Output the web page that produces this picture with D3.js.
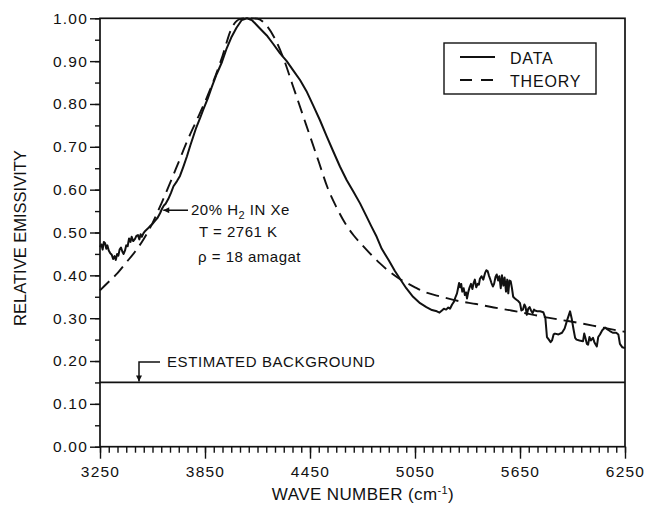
<!DOCTYPE html>
<html>
<head>
<meta charset="utf-8">
<script src="https://cdn.jsdelivr.net/npm/d3@7"></script>
<style>
  html, body { margin: 0; padding: 0; background: #fff; }
  svg { display: block; font-family: "Liberation Sans", Arial, Helvetica, sans-serif; }
  text { fill: #111; }
</style>
</head>
<body>
<svg id="chart" width="651" height="508"></svg>
<script>
// Measured emission spectrum (wave number, relative emissivity)
const dataWn = [3250,3258,3265,3272,3279,3286,3292,3300,3308,3317,3325,3333,3340,3348,3355,3362,3370,3378,3385,3393,3400,3408,3416,3424,3431,3440,3450,3458,3467,3475,3482,3489,3498,3507,3520,3536,3550,3564,3580,3593,3605,3615,3625,3640,3655,3670,3690,3707,3725,3747,3765,3783,3800,3820,3840,3865,3889,3917,3947,3974,4000,4030,4060,4090,4120,4160,4203,4240,4279,4317,4355,4393,4430,4470,4507,4545,4580,4621,4660,4700,4736,4770,4800,4831,4860,4900,4935,4964,5000,5039,5079,5115,5147,5175,5190,5204,5215,5228,5240,5250,5262,5272,5282,5290,5296,5302,5308,5314,5320,5328,5335,5342,5347,5355,5362,5370,5378,5385,5392,5400,5408,5415,5421,5430,5440,5450,5458,5465,5472,5479,5487,5495,5502,5510,5517,5525,5532,5540,5547,5555,5562,5570,5577,5583,5590,5597,5604,5611,5621,5630,5640,5650,5658,5667,5675,5682,5689,5697,5705,5713,5722,5730,5736,5750,5765,5783,5795,5804,5815,5825,5833,5842,5850,5870,5890,5905,5920,5936,5945,5955,5965,5973,5990,6010,6017,6025,6032,6039,6047,6055,6067,6075,6083,6089,6097,6107,6120,6136,6150,6164,6180,6200,6212,6221,6235,6250];
const dataVal = [0.466,0.472,0.460,0.478,0.475,0.462,0.470,0.458,0.452,0.448,0.438,0.445,0.436,0.450,0.446,0.460,0.465,0.455,0.450,0.458,0.470,0.468,0.486,0.478,0.490,0.480,0.485,0.492,0.494,0.484,0.496,0.490,0.498,0.503,0.508,0.515,0.520,0.527,0.535,0.545,0.556,0.563,0.567,0.578,0.592,0.608,0.620,0.632,0.652,0.678,0.702,0.724,0.745,0.765,0.787,0.812,0.840,0.870,0.898,0.930,0.955,0.978,0.996,1.000,0.995,0.978,0.960,0.940,0.918,0.900,0.878,0.856,0.830,0.795,0.762,0.725,0.692,0.654,0.622,0.594,0.568,0.540,0.515,0.490,0.462,0.435,0.410,0.392,0.370,0.350,0.335,0.326,0.319,0.316,0.313,0.318,0.322,0.320,0.325,0.322,0.332,0.338,0.350,0.358,0.370,0.382,0.372,0.380,0.362,0.370,0.354,0.360,0.346,0.362,0.372,0.380,0.368,0.382,0.390,0.372,0.380,0.378,0.392,0.398,0.390,0.405,0.412,0.410,0.400,0.392,0.382,0.374,0.380,0.396,0.402,0.388,0.398,0.370,0.400,0.376,0.395,0.362,0.390,0.358,0.388,0.386,0.370,0.350,0.346,0.343,0.340,0.335,0.318,0.320,0.332,0.326,0.308,0.322,0.326,0.318,0.312,0.320,0.318,0.316,0.316,0.314,0.300,0.256,0.250,0.244,0.248,0.262,0.264,0.262,0.266,0.276,0.296,0.316,0.300,0.276,0.254,0.250,0.248,0.246,0.264,0.252,0.240,0.238,0.256,0.248,0.254,0.244,0.238,0.234,0.256,0.262,0.272,0.278,0.274,0.270,0.266,0.266,0.262,0.240,0.232,0.230];

// Theoretical line profile
const theoryWn = [3250,3300,3350,3400,3450,3500,3550,3600,3650,3700,3750,3800,3850,3900,3950,4000,4050,4100,4150,4200,4250,4300,4350,4400,4450,4500,4550,4600,4650,4700,4750,4800,4850,4900,4950,5000,5050,5100,5200,5300,5400,5500,5600,5700,5800,5900,6000,6100,6200,6250];
const theoryVal = [0.365,0.385,0.405,0.430,0.455,0.485,0.522,0.567,0.615,0.665,0.715,0.760,0.805,0.855,0.912,0.975,0.998,1.000,0.999,0.984,0.952,0.905,0.845,0.785,0.725,0.665,0.605,0.560,0.522,0.493,0.470,0.448,0.428,0.410,0.395,0.383,0.372,0.362,0.350,0.340,0.333,0.325,0.318,0.310,0.302,0.295,0.288,0.280,0.272,0.268];

const backgroundLevel = 0.15;
const backgroundLabelWn = 3450;

const xMajorTicks = [3250,3850,4450,5050,5650,6250];
const xMinorTicks = d3.range(3250, 6251, 50);
const yMajorTicks = [0,0.1,0.2,0.3,0.4,0.5,0.6,0.7,0.8,0.9,1.0];
const yMinorTicks = d3.range(0, 1.001, 0.05);

const legendItems = ["DATA", "THEORY"];

const margin = {left: 100, right: 26, top: 18.3, bottom: 61.3};
const W = 651, H = 508;
const svg = d3.select("#chart");

const x = d3.scaleLinear().domain([3250, 6250]).range([margin.left, W - margin.right]);
const y = d3.scaleLinear().domain([0, 1]).range([H - margin.bottom, margin.top]);

const ink = "#111";
const fontTick = "15.5px";

// Minor ticks (no labels)
svg.append("g")
  .attr("transform", `translate(${margin.left},0)`)
  .call(d3.axisLeft(y).tickValues(yMinorTicks).tickSize(5).tickSizeOuter(0).tickFormat(""))
  .call(g => g.select(".domain").remove());
svg.append("g")
  .attr("transform", `translate(0,${y(0)})`)
  .call(d3.axisBottom(x).tickValues(xMinorTicks).tickSize(6).tickSizeOuter(0).tickFormat(""))
  .call(g => g.select(".domain").remove());

// Major ticks with labels
const yAxis = svg.append("g")
  .attr("transform", `translate(${margin.left},0)`)
  .call(d3.axisLeft(y).tickValues(yMajorTicks).tickSize(10).tickSizeOuter(0).tickPadding(2).tickFormat(d3.format(".2f")));
yAxis.select(".domain").remove();
yAxis.selectAll("text").style("font-size", fontTick).style("letter-spacing", "1.2px").attr("fill", ink);

const xAxis = svg.append("g")
  .attr("transform", `translate(0,${y(0)})`)
  .call(d3.axisBottom(x).tickValues(xMajorTicks).tickSize(12).tickSizeOuter(0).tickPadding(7).tickFormat(d3.format("d")));
xAxis.select(".domain").remove();
xAxis.selectAll("text").style("font-size", fontTick).style("letter-spacing", "1.2px").attr("fill", ink);

svg.selectAll(".tick line").attr("stroke", ink).attr("stroke-width", 1.4);

// Plot frame
svg.append("rect")
  .attr("x", x(3250)).attr("y", y(1))
  .attr("width", x(6250) - x(3250)).attr("height", y(0) - y(1))
  .attr("fill", "none").attr("stroke", ink).attr("stroke-width", 1.7);

// Estimated background level
svg.append("line")
  .attr("x1", x(3250)).attr("x2", x(6250))
  .attr("y1", y(backgroundLevel)).attr("y2", y(backgroundLevel))
  .attr("stroke", ink).attr("stroke-width", 1.7);

// Curves
const dataPts = dataWn.map((w, i) => [w, dataVal[i]]);
const theoryPts = theoryWn.map((w, i) => [w, theoryVal[i]]);

svg.append("path")
  .datum(theoryPts)
  .attr("fill", "none").attr("stroke", ink).attr("stroke-width", 1.9)
  .attr("stroke-dasharray", "13,7")
  .attr("d", d3.line().x(d => x(d[0])).y(d => y(d[1])).curve(d3.curveMonotoneX));

svg.append("path")
  .datum(dataPts)
  .attr("fill", "none").attr("stroke", ink).attr("stroke-width", 2.0)
  .attr("stroke-linejoin", "round")
  .attr("d", d3.line().x(d => x(d[0])).y(d => y(d[1])));

// Arrowhead marker
const defs = svg.append("defs");
defs.append("marker")
  .attr("id", "arrow").attr("viewBox", "0 0 10 10")
  .attr("refX", 10).attr("refY", 5)
  .attr("markerWidth", 7).attr("markerHeight", 6)
  .attr("markerUnits", "userSpaceOnUse")
  .attr("orient", "auto")
  .append("path").attr("d", "M0,0 L10,5 L0,10 z").attr("fill", ink);

// Sample conditions annotation
const annY = y(0.552);
svg.append("line")
  .attr("x1", 188).attr("x2", x(3600) + 2)
  .attr("y1", annY).attr("y2", annY)
  .attr("stroke", ink).attr("stroke-width", 1.5)
  .attr("marker-end", "url(#arrow)");

const ann = svg.append("g").style("font-size", "15px").style("letter-spacing", "0.5px").attr("fill", ink);
const t1 = ann.append("text").attr("x", 191).attr("y", annY + 5);
t1.append("tspan").text("20% H");
t1.append("tspan").attr("dy", 4).style("font-size", "11px").text("2");
t1.append("tspan").attr("dy", -4).text(" IN Xe");
ann.append("text").attr("x", 199).attr("y", 237).text("T = 2761 K");
ann.append("text").attr("x", 198).attr("y", 262).text("ρ = 18 amagat");

// Background annotation with bent arrow
const bx = x(backgroundLabelWn) + 4;
svg.append("path")
  .attr("d", `M160,362 L${bx},362 L${bx},${y(backgroundLevel) - 1}`)
  .attr("fill", "none").attr("stroke", ink).attr("stroke-width", 1.5)
  .attr("marker-end", "url(#arrow)");
svg.append("text").attr("x", 167).attr("y", 367)
  .style("font-size", "15px").style("letter-spacing", "0.6px").attr("fill", ink)
  .text("ESTIMATED BACKGROUND");

// Legend
const lg = svg.append("g");
lg.append("rect").attr("x", 444).attr("y", 43).attr("width", 152).attr("height", 51)
  .attr("fill", "#fff").attr("stroke", ink).attr("stroke-width", 1.4);
legendItems.forEach((name, i) => {
  const ly = 57 + i * 23;
  lg.append("line").attr("x1", 460).attr("x2", 495).attr("y1", ly).attr("y2", ly)
    .attr("stroke", ink).attr("stroke-width", 1.8)
    .attr("stroke-dasharray", i === 1 ? "12,9" : null);
  lg.append("text").attr("x", 510).attr("y", ly + 6.5)
    .style("font-size", "16px").style("letter-spacing", "0.8px").attr("fill", ink).text(name);
});

// Axis titles
svg.append("text")
  .attr("transform", `translate(26,${(148 + 328) / 2}) rotate(-90)`)
  .attr("text-anchor", "middle")
  .style("font-size", "16.5px").attr("fill", ink)
  .text("RELATIVE EMISSIVITY");

const xt = svg.append("text")
  .attr("x", 363).attr("y", 500)
  .attr("text-anchor", "middle")
  .style("font-size", "17px").style("letter-spacing", "0.4px").attr("fill", ink);
xt.append("tspan").text("WAVE NUMBER (cm");
xt.append("tspan").attr("dy", -6).style("font-size", "11px").text("-1");
xt.append("tspan").attr("dy", 6).text(")");
</script>
</body>
</html>
